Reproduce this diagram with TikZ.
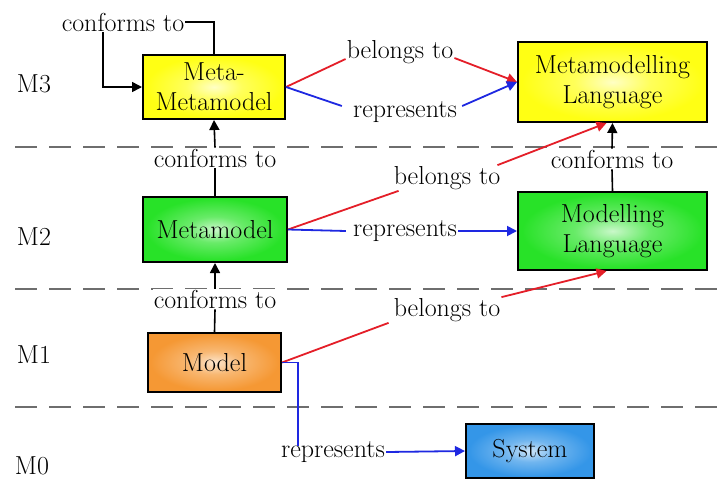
\documentclass[tikz,border=0pt]{standalone}
\usetikzlibrary{arrows.meta}
\definecolor{boxyellow}{RGB}{255,255,20}
\definecolor{boxgreen}{RGB}{40,226,40}
\definecolor{boxorange}{RGB}{245,152,52}
\definecolor{boxblue}{RGB}{52,150,232}
\definecolor{relred}{RGB}{228,30,40}
\definecolor{relblue}{RGB}{30,40,225}
\definecolor{levelgray}{RGB}{110,110,110}
% soft white glow in the middle of each box
\pgfdeclareradialshading{yglow}{\pgfpoint{0bp}{0bp}}{color(0bp)=(boxyellow!25!white); color(10bp)=(boxyellow!70!white); color(24bp)=(boxyellow); color(50bp)=(boxyellow)}
\pgfdeclareradialshading{gglow}{\pgfpoint{0bp}{0bp}}{color(0bp)=(boxgreen!25!white); color(10bp)=(boxgreen!70!white); color(24bp)=(boxgreen); color(50bp)=(boxgreen)}
\pgfdeclareradialshading{oglow}{\pgfpoint{0bp}{0bp}}{color(0bp)=(boxorange!25!white); color(10bp)=(boxorange!70!white); color(24bp)=(boxorange); color(50bp)=(boxorange)}
\pgfdeclareradialshading{bglow}{\pgfpoint{0bp}{0bp}}{color(0bp)=(boxblue!25!white); color(10bp)=(boxblue!70!white); color(24bp)=(boxblue); color(50bp)=(boxblue)}
\newcommand{\diagfont}{\fontsize{26}{30}\selectfont}
\begin{document}
\begin{tikzpicture}[x=1pt,y=-1pt,
  box/.style={draw=black, line width=2pt, shade, align=center, inner sep=0pt,
    font=\diagfont, text=black},
  lbl/.style={font=\diagfont, text=black, fill=white, inner sep=1pt},
  lvl/.style={font=\diagfont, text=black},
  level/.style={draw=levelgray, line width=2.5pt, dash pattern=on 22pt off 12pt},
  conf/.style={draw=black, line width=1.6pt},
  belong/.style={draw=relred, line width=1.8pt},
  repr/.style={draw=relblue, line width=1.8pt},
  tip/.style={-{Triangle[length=10pt,width=10pt]}}]
\useasboundingbox (0,0) rectangle (717,483);
\fill[white] (0,0) rectangle (717,483);

% level separators
\draw[level] (15,147) -- (717,147);
\draw[level] (15,289) -- (717,289);
\draw[level] (15,407) -- (717,407);

% level names
\node[lvl] (m3) at (34,84) {M3};
\node[lvl] (m2) at (34,237) {M2};
\node[lvl] (m1) at (34,355) {M1};
\node[lvl] (m0) at (32,466) {M0};

% boxes
\node[box, shading=yglow, minimum width=142pt, minimum height=64pt] (mmm) at (214,87) {Meta-\\Metamodel};
\node[box, shading=yglow, minimum width=189pt, minimum height=80pt] (mml) at (612.5,82) {Metamodelling\\Language};
\node[box, shading=gglow, minimum width=144pt, minimum height=65pt] (mm) at (215,229.5) {Metamodel};
\node[box, shading=gglow, minimum width=189pt, minimum height=78pt] (ml) at (612.5,231) {Modelling\\Language};
\node[box, shading=oglow, minimum width=133pt, minimum height=59pt] (model) at (214.5,362.5) {Model};
\node[box, shading=bglow, minimum width=128pt, minimum height=54pt] (sys) at (530,451) {System};

% relation labels
\node[lbl] (cf0) at (123,22) {conforms to};
\node[lbl] (cf1) at (215,158) {conforms to};
\node[lbl] (cf2) at (215,299) {conforms to};
\node[lbl] (cf3) at (612,159) {conforms to};
\node[lbl] (bt1) at (400,52) {belongs to};
\node[lbl] (rp1) at (405,112) {represents};
\node[lbl] (bt2) at (447,178) {belongs to};
\node[lbl] (rp2) at (405,231) {represents};
\node[lbl] (bt3) at (447,310) {belongs to};
\node[lbl] (rp3) at (333,452) {represents};

% conforms to
\draw[conf] (mmm.north) |- (cf0.east);
\draw[conf, tip] ([xshift=-20pt]cf0.south) |- (mmm.west);
\draw[conf] (mm.north) -- (cf1.south);
\draw[conf, tip] (cf1.north) -- (mmm.south);
\draw[conf] (model.north) -- (cf2.south);
\draw[conf, tip] (cf2.north) -- (mm.south);
\draw[conf] (ml.north) -- (cf3.south);
\draw[conf, tip] (cf3.north) -- (mml.south);

% belongs to
\draw[belong] (mmm.east) -- ([yshift=-7pt]bt1.west);
\draw[belong, tip] ([yshift=-6pt]bt1.east) -- (mml.west);
\draw[belong] (mm.east) -- ([xshift=6pt]bt2.south west);
\draw[belong, tip] ([xshift=-4pt]bt2.north east) -- ([xshift=-6pt]mml.south);
\draw[belong] (model.east) -- ([xshift=-4pt]bt3.south west);
\draw[belong, tip] (bt3.north east) -- ([xshift=-6pt]ml.south);

% represents
\draw[repr] (mmm.east) -- ([xshift=-10pt,yshift=6pt]rp1.west);
\draw[repr, tip] ([xshift=4pt,yshift=6pt]rp1.east) -- (mml.west);
\draw[repr] (mm.east) -- ([xshift=-6pt]rp2.west);
\draw[repr, tip] (rp2.east) -- (ml.west);
\draw[repr] (model.east) -| ([xshift=-35pt,yshift=-6pt]rp3.north);
\draw[repr, tip] (rp3.east) -- (sys.west);
\end{tikzpicture}
\end{document}
